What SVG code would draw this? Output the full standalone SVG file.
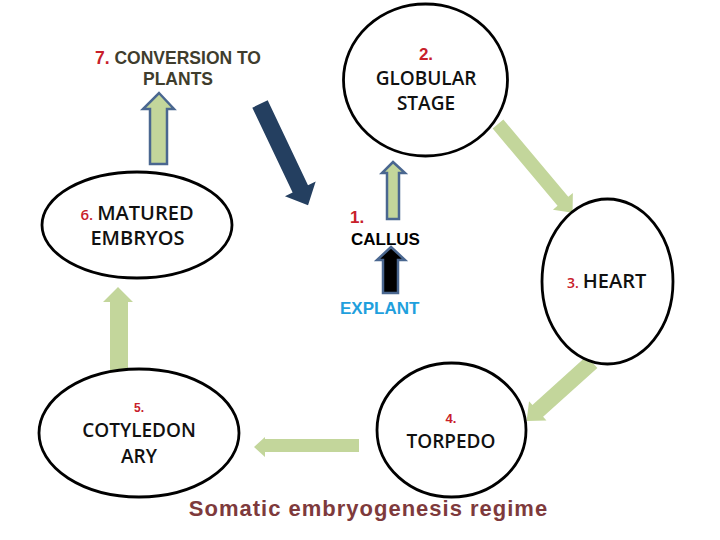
<svg xmlns="http://www.w3.org/2000/svg" width="720" height="540" viewBox="0 0 720 540">
<style>
.node{fill:#fff;stroke:#000;stroke-width:2.8}
.lbl{font-family:"Open Sans","Liberation Sans",sans-serif;font-weight:600;fill:#111;text-anchor:middle}
.num{fill:#c8202a;font-family:"Liberation Sans",Arial,sans-serif;font-weight:bold}
.ar{font-family:"Liberation Sans",Arial,sans-serif;font-weight:bold}
.green{fill:#c3d69b}
.outl{stroke:#4a6790;stroke-width:2.5;stroke-linejoin:miter}
</style>
<rect width="720" height="540" fill="#fff"/>
<g id="connectors">
  <!-- 7: matured -> conversion -->
  <polygon class="green outl" points="159,93 174,109 167,109 167,164 150,164 150,109 143,109"/>
  <!-- dark navy arrow -->
  <polygon fill="#243f60" transform="translate(260,104) rotate(64.6)" points="0,-8.5 94,-8.5 94,-17 112,0 94,17 94,8.5 0,8.5"/>
  <!-- callus -> globular -->
  <polygon class="green outl" points="393,162 405,173 399,173 399,219 387,219 387,173 382,173"/>
  <!-- explant -> callus -->
  <polygon fill="#000" class="outl" points="391,247 405,260 398,260 398,293 383,293 383,260 377,260"/>
  <!-- globular -> heart -->
  <polygon class="green" transform="translate(498,124) rotate(50)" points="0,-7 101,-7 101,-13 116,0 101,13 101,7 0,7"/>
  <!-- heart -> torpedo -->
  <polygon class="green" transform="translate(592,362) rotate(138)" points="0,-8 73,-8 73,-13 88,0 73,13 73,8 0,8"/>
  <!-- torpedo -> cotyledonary -->
  <polygon class="green" points="254,447 265,437 265,439 359,439 359,452 265,452 265,457"/>
  <!-- cotyledonary -> matured -->
  <polygon class="green" points="118,287 133,302 128,302 128,372 110,372 110,302 103,302"/>
</g>
<g id="conversion">
  <text class="ar" font-size="17.5" x="178" y="64" text-anchor="middle" fill="#3f3d2d"><tspan fill="#c8202a">7.</tspan> CONVERSION TO</text>
  <text class="ar" font-size="17.5" x="178" y="85" text-anchor="middle" fill="#3f3d2d">PLANTS</text>
</g>
<g id="globular">
  <ellipse class="node" cx="425.5" cy="80" rx="82" ry="76"/>
  <text class="num" font-size="17" x="426" y="60" text-anchor="middle">2.</text>
  <text class="lbl" font-size="19" x="426" y="85">GLOBULAR</text>
  <text class="lbl" font-size="19" x="426" y="110">STAGE</text>
</g>
<g id="callus">
  <text class="num" font-size="17" x="350" y="223">1.</text>
  <text class="ar" font-size="17" x="351" y="245" fill="#000">CALLUS</text>
</g>
<g id="explant">
  <text class="ar" font-size="17" x="340" y="314" fill="#1fa0dd">EXPLANT</text>
</g>
<g id="heart">
  <ellipse class="node" cx="607.5" cy="281.5" rx="65.5" ry="82.5"/>
  <text x="567" y="288" font-family="'Open Sans','Liberation Sans',sans-serif" font-weight="600"><tspan fill="#c8202a" font-size="14">3.</tspan><tspan fill="#111" font-size="20" dx="4">HEART</tspan></text>
</g>
<g id="torpedo">
  <ellipse class="node" cx="451.5" cy="430" rx="74.5" ry="67"/>
  <text class="num" font-size="13" x="451" y="423" text-anchor="middle">4.</text>
  <text class="lbl" font-size="19" x="451" y="448">TORPEDO</text>
</g>
<g id="cotyledonary">
  <ellipse class="node" cx="139" cy="433" rx="100" ry="64"/>
  <text class="num" font-size="12" x="139" y="412" text-anchor="middle">5.</text>
  <text class="lbl" font-size="19" x="139" y="437">COTYLEDON</text>
  <text class="lbl" font-size="19" x="139" y="463">ARY</text>
</g>
<g id="matured">
  <ellipse class="node" cx="137" cy="225" rx="95" ry="53"/>
  <text x="137" y="220" text-anchor="middle" font-family="'Open Sans','Liberation Sans',sans-serif" font-weight="600"><tspan fill="#c8202a" font-size="15">6.</tspan><tspan fill="#111" font-size="20" dx="4">MATURED</tspan></text>
  <text class="lbl" font-size="20" x="137.5" y="245">EMBRYOS</text>
</g>
<g id="title">
  <text class="ar" font-size="22" x="368.5" y="516" text-anchor="middle" letter-spacing="1" fill="#7e3a3c">Somatic embryogenesis regime</text>
</g>
</svg>
